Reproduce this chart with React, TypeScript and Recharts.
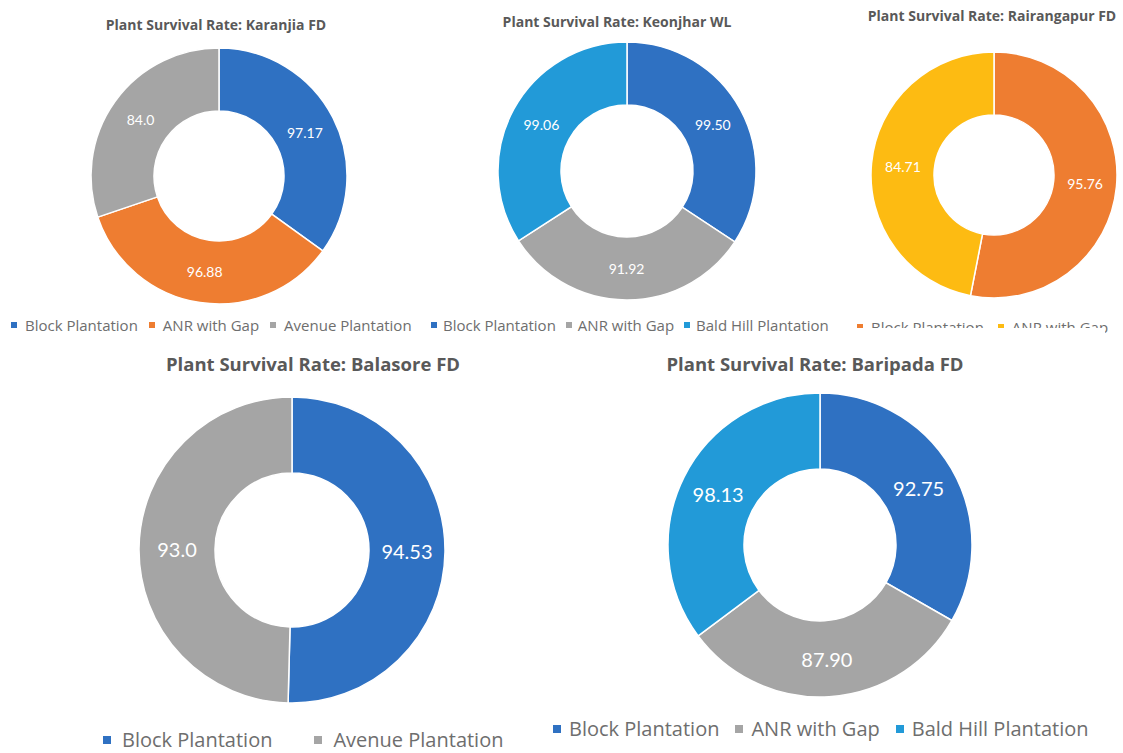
import React from 'react';
import { PieChart, Pie, Cell, Legend } from 'recharts';

const BLUE = '#2F71C2';
const ORANGE = '#EE7D31';
const GRAY = '#A5A5A5';
const YELLOW = '#FDBB12';
const LIGHTBLUE = '#229AD8';

const karanjiaCategories = ['Block Plantation', 'ANR with Gap', 'Avenue Plantation'];
const karanjiaValues = [97.17, 96.88, 84.0];
const karanjiaLabels = ['97.17', '96.88', '84.0'];
const karanjiaColors = [BLUE, ORANGE, GRAY];

const keonjharCategories = ['Block Plantation', 'ANR with Gap', 'Bald Hill Plantation'];
const keonjharValues = [99.5, 91.92, 99.06];
const keonjharLabels = ['99.50', '91.92', '99.06'];
const keonjharColors = [BLUE, GRAY, LIGHTBLUE];

const rairangapurCategories = ['Block Plantation', 'ANR with Gap'];
const rairangapurValues = [95.76, 84.71];
const rairangapurLabels = ['95.76', '84.71'];
const rairangapurColors = [ORANGE, YELLOW];

const balasoreCategories = ['Block Plantation', 'Avenue Plantation'];
const balasoreValues = [94.53, 93.0];
const balasoreLabels = ['94.53', '93.0'];
const balasoreColors = [BLUE, GRAY];

const baripadaCategories = ['Block Plantation', 'ANR with Gap', 'Bald Hill Plantation'];
const baripadaValues = [92.75, 87.9, 98.13];
const baripadaLabels = ['92.75', '87.90', '98.13'];
const baripadaColors = [BLUE, GRAY, LIGHTBLUE];

const TEXT_FONT = '"Open Sans", sans-serif';
const LABEL_FONT = 'Lato, "Open Sans", sans-serif';
const RAD = Math.PI / 180;

type DonutProps = {
  title: string;
  categories: string[];
  values: number[];
  labels: string[];
  colors: string[];
  left: number;
  top: number;
  width: number;
  height: number;
  cx: number;
  cy: number;
  inner: number;
  outer: number;
  titleX: number;
  titleY: number;
  titleSize: number;
  labelSize: number;
  legendX: number;
  legendY: number;
  legendSize: number;
  markerSize: number;
  markerGap: number;
  itemGap: number;
};

function Donut(p: DonutProps) {
  const data = p.categories.map((c, i) => ({ name: c, value: p.values[i] }));
  const renderLabel = (props: any) => {
    const { cx, cy, midAngle, innerRadius, outerRadius, index } = props;
    const r = (innerRadius + outerRadius) / 2;
    const x = cx + r * Math.cos(-midAngle * RAD);
    const y = cy + r * Math.sin(-midAngle * RAD);
    return (
      <text
        x={x}
        y={y}
        fill="#ffffff"
        fontSize={p.labelSize}
        fontFamily={LABEL_FONT}
        textAnchor="middle"
        dominantBaseline="central"
      >
        {p.labels[index]}
      </text>
    );
  };
  const legendContent = () => (
    <div style={{ display: 'flex', alignItems: 'center', whiteSpace: 'nowrap', fontFamily: TEXT_FONT, fontSize: p.legendSize, color: '#6e6e6e' }}>
      {p.categories.map((c, i) => (
        <div key={c} style={{ display: 'flex', alignItems: 'center', marginRight: p.itemGap }}>
          <span style={{ display: 'inline-block', width: p.markerSize, height: p.markerSize, background: p.colors[i], marginRight: p.markerGap }} />
          <span>{c}</span>
        </div>
      ))}
    </div>
  );
  return (
    <div style={{ position: 'absolute', left: p.left, top: p.top, width: p.width, height: p.height }}>
      <div
        style={{
          position: 'absolute',
          left: p.titleX - 200,
          width: 400,
          top: p.titleY,
          textAlign: 'center',
          fontFamily: TEXT_FONT,
          fontWeight: 700,
          fontSize: p.titleSize,
          color: '#595959',
          whiteSpace: 'nowrap',
          lineHeight: 1.2,
        }}
      >
        {p.title}
      </div>
      <PieChart width={p.width} height={p.height} margin={{ top: 0, right: 0, bottom: 0, left: 0 }}>
        <Pie
          data={data}
          dataKey="value"
          nameKey="name"
          cx={p.cx}
          cy={p.cy}
          innerRadius={p.inner}
          outerRadius={p.outer}
          startAngle={90}
          endAngle={-270}
          stroke="#ffffff"
          strokeWidth={1.5}
          label={renderLabel}
          labelLine={false}
          isAnimationActive={false}
        >
          {data.map((d, i) => (
            <Cell key={d.name} fill={p.colors[i]} />
          ))}
        </Pie>
        <Legend
          content={legendContent}
          wrapperStyle={{ position: 'absolute', left: p.legendX, top: p.legendY, width: 'auto', height: 'auto' }}
        />
      </PieChart>
    </div>
  );
}

export default function App() {
  return (
    <div style={{ position: 'absolute', left: 0, top: 0, width: 1123, height: 753, background: '#ffffff', overflow: 'hidden' }}>
      <Donut
        title="Plant Survival Rate: Karanjia FD"
        categories={karanjiaCategories}
        values={karanjiaValues}
        labels={karanjiaLabels}
        colors={karanjiaColors}
        left={0} top={0} width={430} height={345}
        cx={219} cy={176} inner={65} outer={128}
        titleX={216} titleY={17} titleSize={14}
        labelSize={14}
        legendX={11} legendY={315} legendSize={15} markerSize={6} markerGap={8} itemGap={11}
      />
      <Donut
        title="Plant Survival Rate: Keonjhar WL"
        categories={keonjharCategories}
        values={keonjharValues}
        labels={keonjharLabels}
        colors={keonjharColors}
        left={425} top={0} width={420} height={345}
        cx={202} cy={171} inner={66} outer={129}
        titleX={192} titleY={14} titleSize={14}
        labelSize={14}
        legendX={6} legendY={315} legendSize={15} markerSize={6} markerGap={6} itemGap={10}
      />
      <Donut
        title="Plant Survival Rate: Rairangapur FD"
        categories={rairangapurCategories}
        values={rairangapurValues}
        labels={rairangapurLabels}
        colors={rairangapurColors}
        left={845} top={0} width={278} height={345}
        cx={149} cy={175} inner={60} outer={123}
        titleX={147} titleY={8} titleSize={14}
        labelSize={14}
        legendX={12} legendY={317} legendSize={15} markerSize={6} markerGap={8} itemGap={14}
      />
      <div style={{ position: 'absolute', left: 850, top: 328, width: 255, height: 20, background: '#ffffff' }} />
      <Donut
        title="Plant Survival Rate: Balasore FD"
        categories={balasoreCategories}
        values={balasoreValues}
        labels={balasoreLabels}
        colors={balasoreColors}
        left={0} top={345} width={540} height={408}
        cx={292} cy={205} inner={77} outer={153}
        titleX={313} titleY={8} titleSize={18.5}
        labelSize={20}
        legendX={103} legendY={381} legendSize={20} markerSize={8} markerGap={11} itemGap={42}
      />
      <Donut
        title="Plant Survival Rate: Baripada FD"
        categories={baripadaCategories}
        values={baripadaValues}
        labels={baripadaLabels}
        colors={baripadaColors}
        left={540} top={345} width={583} height={408}
        cx={280} cy={200} inner={76} outer={152}
        titleX={275} titleY={8} titleSize={18.5}
        labelSize={20}
        legendX={13} legendY={370} legendSize={20} markerSize={8} markerGap={8} itemGap={16}
      />
    </div>
  );
}
